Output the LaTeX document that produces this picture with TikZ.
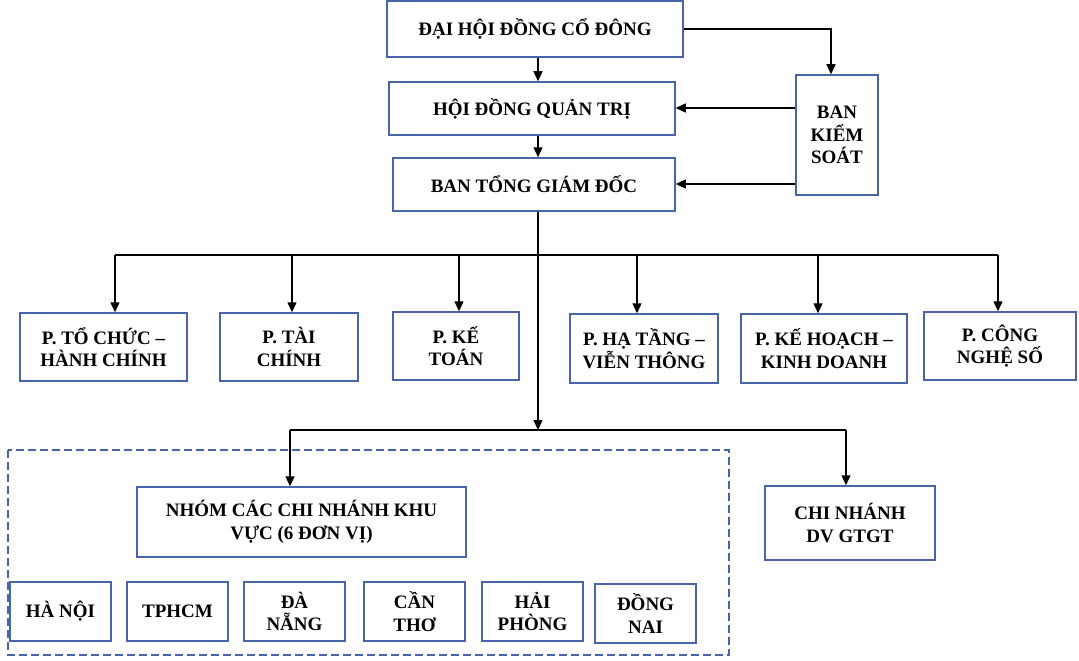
\documentclass[tikz,border=0pt]{standalone}
\usepackage{fontspec}
\setmainfont{Liberation Serif}
\usetikzlibrary{arrows.meta}
\definecolor{boxblue}{RGB}{72,100,170}
\begin{document}
\begin{tikzpicture}[x=1pt,y=-1pt,
  box/.style={draw=boxblue,line width=1.5pt,fill=white,align=center,inner sep=0pt,
    font=\fontsize{19}{22.5}\selectfont\bfseries},
  arr/.style={line width=1.4pt,-{Triangle[length=10pt,width=9pt]}},
  ln/.style={line width=1.4pt},
  grp/.style={draw=boxblue,line width=1.3pt,dash pattern=on 8pt off 4pt}]
\useasboundingbox (0,0) rectangle (1079,661);

% dashed group
\draw[grp] (8,450) rectangle (729,655);

% top
\node[box,minimum width=296pt,minimum height=56pt] (dh) at (535,29) {ĐẠI HỘI ĐỒNG CỔ ĐÔNG};
\node[box,minimum width=286pt,minimum height=53pt] (hq) at (532,108.5) {HỘI ĐỒNG QUẢN TRỊ};
\node[box,minimum width=282pt,minimum height=53pt] (bt) at (534,184.5) {BAN TỔNG GIÁM ĐỐC};
\node[box,minimum width=82pt,minimum height=120pt] (bk) at (837,135) {BAN\\KIỂM\\SOÁT};

% departments
\node[box,minimum width=167pt,minimum height=68pt] (p1) at (103.5,347) {P. TỔ CHỨC –\\HÀNH CHÍNH};
\node[box,minimum width=138pt,minimum height=68pt] (p2) at (289,347) {P. TÀI\\CHÍNH};
\node[box,minimum width=126pt,minimum height=68pt] (p3) at (456,346) {P. KẾ\\TOÁN};
\node[box,minimum width=148pt,minimum height=69pt] (p4) at (644,348.5) {P. HẠ TẦNG –\\VIỄN THÔNG};
\node[box,minimum width=166pt,minimum height=69pt] (p5) at (824,348.5) {P. KẾ HOẠCH –\\KINH DOANH};
\node[box,minimum width=152pt,minimum height=68pt] (p6) at (1000,346) {P. CÔNG\\NGHỆ SỐ};

% branches
\node[box,minimum width=329pt,minimum height=70pt] (nh) at (301.5,522) {NHÓM CÁC CHI NHÁNH KHU\\VỰC (6 ĐƠN VỊ)};
\node[box,minimum width=170pt,minimum height=74pt] (cn) at (850,523) {CHI NHÁNH\\DV GTGT};

\node[box,minimum width=101pt,minimum height=59pt] (c1) at (60.5,611.5) {HÀ NỘI};
\node[box,minimum width=101pt,minimum height=59pt] (c2) at (177.5,611.5) {TPHCM};
\node[box,minimum width=101pt,minimum height=59pt] (c3) at (294.5,611.5) {ĐÀ\\NẴNG};
\node[box,minimum width=101pt,minimum height=59pt] (c4) at (414.5,611.5) {CẦN\\THƠ};
\node[box,minimum width=101pt,minimum height=59pt] (c5) at (532.5,611.5) {HẢI\\PHÒNG};
\node[box,minimum width=101pt,minimum height=59pt] (c6) at (645.5,613.5) {ĐỒNG\\NAI};

% connectors top
\coordinate (cx) at (538,0);
\draw[arr] (dh.south -| cx) -- (hq.north -| cx);
\draw[arr] (hq.south -| cx) -- (bt.north -| cx);
\coordinate (bkin) at (831,0);
\draw[arr] (dh.east) -| (bk.north -| bkin);
\coordinate (y1) at (0,108);
\coordinate (y2) at (0,184);
\draw[arr] (bk.west |- y1) -- (hq.east |- y1);
\draw[arr] (bk.west |- y2) -- (bt.east |- y2);

% bus 1
\coordinate (sp) at (538,255);
\coordinate (j1) at (115,255);
\coordinate (j2) at (292,255);
\coordinate (j3) at (459,255);
\coordinate (j4) at (637,255);
\coordinate (j5) at (818,255);
\coordinate (j6) at (998,255);
\draw[ln] (bt.south -| sp) -- (sp);
\draw[ln] (j1) -- (j6);
\draw[arr] (j1) -- (j1 |- p1.north);
\draw[arr] (j2) -- (j2 |- p2.north);
\draw[arr] (j3) -- (j3 |- p3.north);
\draw[arr] (j4) -- (j4 |- p4.north);
\draw[arr] (j5) -- (j5 |- p5.north);
\draw[arr] (j6) -- (j6 |- p6.north);

% bus 2
\coordinate (k0) at (538,430);
\coordinate (k1) at (290,430);
\coordinate (k2) at (846,430);
\draw[arr] (sp) -- (k0);
\draw[ln] (k1) -- (k2);
\draw[arr] (k1) -- (k1 |- nh.north);
\draw[arr] (k2) -- (k2 |- cn.north);
\end{tikzpicture}
\end{document}
